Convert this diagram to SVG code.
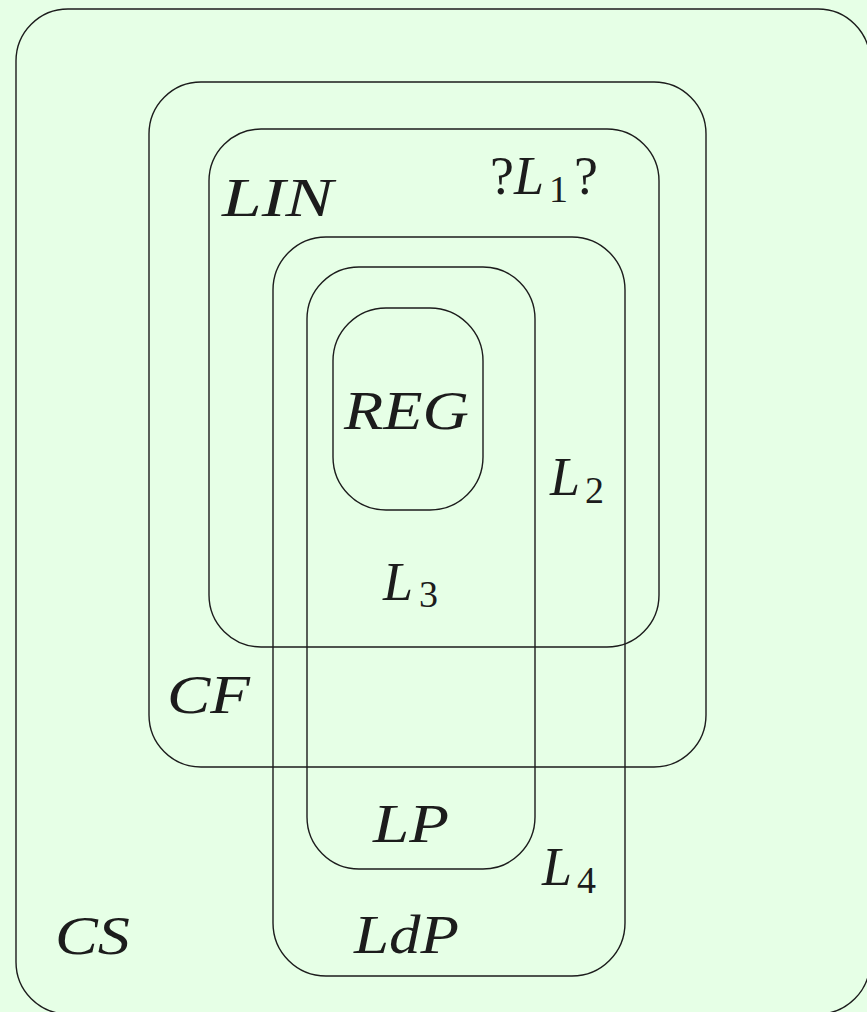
<svg xmlns="http://www.w3.org/2000/svg" width="867" height="1012" viewBox="0 0 867 1012">
  <style>
    .set { fill: none; stroke: #1c1c1c; stroke-width: 1.4; }
    .lbl { font-family: "Liberation Serif", "DejaVu Serif", serif; font-style: italic; font-size: 54px; fill: #1c1c1c; }
    .rm { font-style: normal; }
    .sub { font-style: normal; font-size: 38px; }
  </style>
  <rect x="0" y="0" width="867" height="1012" fill="#e6ffe6"/>

  <!-- context-sensitive languages -->
  <g id="cs">
    <rect class="set" x="16" y="9" width="854" height="1005" rx="52" ry="52"/>
    <text class="lbl" x="55" y="954" textLength="75" lengthAdjust="spacingAndGlyphs">CS</text>
  </g>

  <!-- context-free languages -->
  <g id="cf">
    <rect class="set" x="149" y="82" width="557" height="685" rx="52" ry="52"/>
    <text class="lbl" x="167" y="713" textLength="83" lengthAdjust="spacingAndGlyphs">CF</text>
  </g>

  <!-- linear languages -->
  <g id="lin">
    <rect class="set" x="209" y="129" width="450" height="518" rx="52" ry="52"/>
    <text class="lbl" x="222" y="216" textLength="111" lengthAdjust="spacingAndGlyphs">LIN</text>
    <text class="lbl" x="490" y="194"><tspan class="rm">?</tspan></text>
    <text class="lbl" x="514" y="194">L</text>
    <text class="lbl sub" x="549" y="202">1</text>
    <text class="lbl" x="574" y="194"><tspan class="rm">?</tspan></text>
  </g>

  <!-- L4 / LdP region -->
  <g id="ldp">
    <rect class="set" x="273" y="237" width="352" height="739" rx="53" ry="53"/>
    <text class="lbl" x="354" y="953" textLength="105" lengthAdjust="spacingAndGlyphs">LdP</text>
    <text class="lbl" x="542" y="885">L</text>
    <text class="lbl sub" x="577" y="893">4</text>
    <text class="lbl" x="550" y="495">L</text>
    <text class="lbl sub" x="585" y="503">2</text>
  </g>

  <!-- L3 / LP region -->
  <g id="lp">
    <rect class="set" x="307" y="267" width="228" height="602" rx="52" ry="52"/>
    <text class="lbl" x="373" y="842" textLength="76" lengthAdjust="spacingAndGlyphs">LP</text>
    <text class="lbl" x="383" y="600">L</text>
    <text class="lbl sub" x="419" y="607">3</text>
  </g>

  <!-- regular languages -->
  <g id="reg">
    <rect class="set" x="333" y="308" width="150" height="202" rx="53" ry="53"/>
    <text class="lbl" x="344" y="429" textLength="125" lengthAdjust="spacingAndGlyphs">REG</text>
  </g>
</svg>
